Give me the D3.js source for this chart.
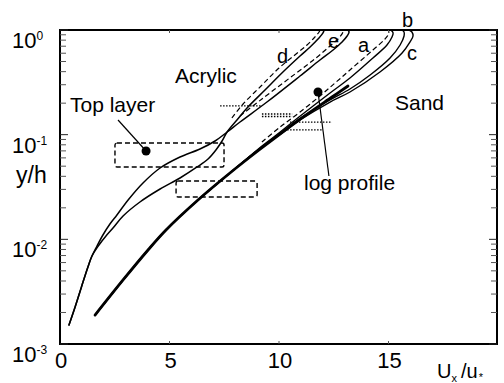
<!DOCTYPE html>
<html>
<head>
<meta charset="utf-8">
<script src="https://cdnjs.cloudflare.com/ajax/libs/d3/7.8.5/d3.min.js"></script>
<style>
  html, body { margin: 0; padding: 0; background: #fff; }
  svg { display: block; font-family: "Liberation Sans", Arial, sans-serif; }
</style>
</head>
<body>
<svg id="chart" width="504" height="383"></svg>
<script>
// ---- data: [U_x/u*, y/h] ----
const xTicks = [0, 5, 10, 15];
const yMajor = [1e-3, 1e-2, 1e-1, 1e0];
const yTickExp = ["-3", "-2", "-1", "0"];

const logProfile = [[1.60,0.00189],[2.88,0.00409],[4.02,0.00791],[4.84,0.01228],[6.30,0.02375],[7.76,0.04303],[9.09,0.07138],[10.91,0.138],[12.42,0.229],[13.15,0.2917]];

const sandBase = [[1.60,0.00189],[2.88,0.00409],[4.02,0.00791],[4.84,0.01228],[6.30,0.02375],[7.76,0.04303]];
const sandA = [[9.00,0.07138],[9.82,0.0971],[10.91,0.1475],[12.33,0.2501],[13.24,0.3478],[14.29,0.5402],[14.93,0.719],[15.16,0.8573],[15.21,0.9362],[15.11,1.0]];
const sandB = [[9.04,0.07138],[9.91,0.0971],[10.91,0.1411],[12.33,0.2145],[13.24,0.2731],[14.16,0.3716],[15.07,0.5402],[15.53,0.719],[15.71,0.8763],[15.71,0.957],[15.62,1.0]];
const sandC = [[9.04,0.07138],[9.95,0.0971],[10.96,0.138],[12.33,0.2051],[13.24,0.2557],[14.61,0.3971],[15.62,0.603],[15.98,0.7678],[16.12,0.8763],[16.07,0.957],[15.94,1.0]];
const sandADashed = [[9.22,0.0851],[10.05,0.1184],[10.96,0.1646],[11.87,0.2341],[12.56,0.3116],[13.24,0.4148],[14.29,0.6441],[14.84,0.8203],[15.02,0.9362],[14.98,1.0]];

const acrylicBase = [[0.41,0.00152],[0.69,0.00226],[0.98,0.00351],[1.26,0.00532],[1.46,0.00693]];
const acrylicE = [[1.69,0.00864],[1.96,0.0110],[2.28,0.01401],[2.60,0.01708],[3.11,0.02375],[3.79,0.03453],[4.57,0.04802],[5.48,0.06117],[6.39,0.07295],[7.08,0.0870],[7.63,0.1060],[8.22,0.1321],[9.45,0.2051],[10.96,0.3635],[11.87,0.5169],[12.47,0.6441],[12.88,0.7678],[13.11,0.8763],[13.20,0.957],[13.15,1.0]];
const acrylicD = [[1.78,0.00883],[2.10,0.01076],[2.42,0.01283],[2.88,0.01671],[3.65,0.02274],[4.57,0.03026],[5.48,0.03855],[6.26,0.04911],[6.76,0.05855],[7.12,0.07138],[7.40,0.0870],[7.63,0.1060],[8.08,0.1380],[8.54,0.1798],[9.36,0.2672],[10.18,0.3971],[10.96,0.5643],[11.42,0.688],[11.78,0.8203],[12.01,0.9362],[12.06,1.0]];
const acrylicDDashed = [[7.85,0.1443],[8.36,0.1963],[9.18,0.2917],[10.00,0.4335],[10.78,0.5898],[11.28,0.719],[11.64,0.8573],[11.83,0.957],[11.87,1.0]];
const acrylicEDashed = [[8.22,0.1508],[9.22,0.2192],[10.73,0.3798],[11.69,0.5402],[12.33,0.7034],[12.74,0.8389],[12.92,0.957],[12.92,1.0]];

// dashed boxes [u0, u1, v0, v1]
const boxes = [[2.51, 7.49, 0.0491, 0.0832], [5.30, 9.00, 0.0254, 0.0361]];
// dotted horizontal segments [u0, u1, v]
const dotted = [[7.31, 9.22, 0.188], [9.22, 10.60, 0.1575], [9.22, 10.60, 0.1492], [10.50, 12.42, 0.132], [10.37, 11.96, 0.111]];
// annotation markers [u, v] and pointer ends
const topLayerDot = [3.93, 0.0698], topLayerPtr = [2.65, 0.138];
const logDot = [11.78, 0.2557], logPtr = [12.28, 0.0403];

const curveLabels = [["d", 277, 63], ["e", 328, 48], ["a", 358, 52], ["b", 402, 27], ["c", 407, 60]];

// ---- drawing ----
const svg = d3.select("#chart");
const L = 60, T = 30, R = 498, B = 344;
const x = d3.scaleLinear().domain([0, 20]).range([L, R]);
const y = d3.scaleLog().domain([1e-3, 1]).range([B, T]);

const line = d3.line().x(d => x(d[0])).y(d => y(d[1])).curve(d3.curveCatmullRom.alpha(0.5));

const g = svg.append("g");

boxes.forEach(b => {
  g.append("rect")
    .attr("x", x(b[0])).attr("y", y(b[3]))
    .attr("width", x(b[1]) - x(b[0])).attr("height", y(b[2]) - y(b[3]))
    .attr("rx", 2)
    .attr("fill", "none").attr("stroke", "#000").attr("stroke-width", 1.4)
    .attr("stroke-dasharray", "5,3");
});

dotted.forEach(s => {
  g.append("line")
    .attr("x1", x(s[0])).attr("x2", x(s[1])).attr("y1", y(s[2])).attr("y2", y(s[2]))
    .attr("stroke", "#000").attr("stroke-width", 1.3).attr("stroke-dasharray", "1.5,1.5");
});

function path(data, w, dash) {
  const p = g.append("path").datum(data).attr("d", line)
    .attr("fill", "none").attr("stroke", "#000").attr("stroke-width", w)
    .attr("stroke-linejoin", "round").attr("stroke-linecap", "round");
  if (dash) p.attr("stroke-dasharray", dash).attr("stroke-linecap", "butt");
}

path(acrylicBase.concat(acrylicE), 1.5);
path(acrylicBase.concat(acrylicD), 1.5);
path(acrylicDDashed, 1.2, "5,3");
path(acrylicEDashed, 1.2, "5,3");
path(sandBase.concat(sandA), 1.4);
path(sandBase.concat(sandB), 1.4);
path(sandBase.concat(sandC), 1.4);
path(sandADashed, 1.2, "5,3");
path(logProfile, 2.8);

[[topLayerDot, topLayerPtr], [logDot, logPtr]].forEach(([d, p]) => {
  g.append("line").attr("x1", x(d[0])).attr("y1", y(d[1])).attr("x2", x(p[0])).attr("y2", y(p[1]))
    .attr("stroke", "#000").attr("stroke-width", 1.2);
  g.append("circle").attr("cx", x(d[0])).attr("cy", y(d[1])).attr("r", 4.5).attr("fill", "#000");
});

svg.append("rect").attr("x", L).attr("y", T).attr("width", R - L - 1).attr("height", B - T)
  .attr("fill", "none").attr("stroke", "#000").attr("stroke-width", 2);

const minor = [];
for (let e = -3; e < 0; e++) for (let k = 2; k <= 9; k++) minor.push(k * Math.pow(10, e));
[[L, 1], [R - 1, -1]].forEach(([x0, dir]) => {
  minor.forEach(v => svg.append("line").attr("x1", x0).attr("x2", x0 + dir * 6)
    .attr("y1", y(v)).attr("y2", y(v)).attr("stroke", "#555").attr("stroke-width", 1));
  yMajor.forEach(v => svg.append("line").attr("x1", x0).attr("x2", x0 + dir * 8)
    .attr("y1", y(v)).attr("y2", y(v)).attr("stroke", "#222").attr("stroke-width", 1));
});
xTicks.slice(1).forEach(t => {
  svg.append("line").attr("x1", x(t)).attr("x2", x(t)).attr("y1", B).attr("y2", B - 3).attr("stroke", "#555");
  svg.append("line").attr("x1", x(t)).attr("x2", x(t)).attr("y1", T).attr("y2", T + 3).attr("stroke", "#555");
});

xTicks.forEach(t => {
  svg.append("text").attr("x", x(t) + 1).attr("y", 368).attr("text-anchor", "middle")
    .attr("font-size", 22).text(t);
});
yMajor.forEach((v, i) => {
  const t = svg.append("text").attr("x", 12).attr("y", y(v) + 18).attr("font-size", 22);
  t.append("tspan").text("10");
  t.append("tspan").attr("font-size", 12).attr("dy", -8).text(yTickExp[i].replace("-", "\u2011"));
});

svg.append("text").attr("x", 16).attr("y", 183).attr("font-size", 23).text("y/h");
const xt = svg.append("text").attr("x", 437).attr("y", 378).attr("font-size", 20);
xt.append("tspan").text("U");
xt.append("tspan").attr("font-size", 11).attr("dy", 4).text("x");
xt.append("tspan").attr("dy", -4).attr("dx", 4).text("/u");
xt.append("tspan").attr("font-size", 11).attr("dy", 3).attr("dx", 1).text("*");

svg.append("text").attr("x", 175).attr("y", 83).attr("font-size", 21).text("Acrylic");
svg.append("text").attr("x", 70).attr("y", 112).attr("font-size", 21).text("Top layer");
svg.append("text").attr("x", 395).attr("y", 110).attr("font-size", 21).text("Sand");
svg.append("text").attr("x", 304).attr("y", 190).attr("font-size", 21).text("log profile");
curveLabels.forEach(c => svg.append("text").attr("x", c[1]).attr("y", c[2]).attr("font-size", 20).text(c[0]));
</script>
</body>
</html>
